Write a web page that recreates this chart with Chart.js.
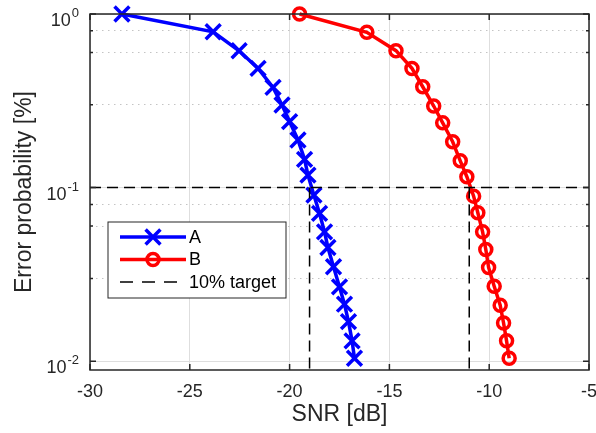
<!DOCTYPE html>
<html>
<head>
<meta charset="utf-8">
<script src="https://cdn.jsdelivr.net/npm/chart.js@4/dist/chart.umd.min.js"></script>
<style>
  html, body { margin: 0; padding: 0; background: #fff; }
  #wrap { width: 596px; height: 433px; }
</style>
</head>
<body>
<div id="wrap"><canvas id="chart"></canvas></div>
<script>
// readings
const snrA = [-28.4, -23.83, -22.53, -21.58, -20.83, -20.38, -20.0, -19.58, -19.25, -19.08,
              -18.78, -18.5, -18.25, -18.08, -17.8, -17.5, -17.25, -17.05, -16.87, -16.75];
const errA = [1.0, 0.79, 0.614, 0.486, 0.378, 0.299, 0.24, 0.188, 0.1455, 0.118,
              0.0905, 0.071, 0.0556, 0.0452, 0.035, 0.0268, 0.0213, 0.0169, 0.0131, 0.0104];
const snrB = [-19.5, -16.13, -14.67, -13.87, -13.33, -12.78, -12.33, -11.83, -11.45, -11.12,
              -10.78, -10.57, -10.33, -10.17, -10.03, -9.75, -9.45, -9.28, -9.13, -9.0];
const errB = [1.0, 0.784, 0.615, 0.486, 0.381, 0.295, 0.236, 0.1836, 0.1427, 0.1155,
              0.0893, 0.0716, 0.0556, 0.044, 0.0347, 0.027, 0.021, 0.0166, 0.0131, 0.0104];
const targetLevel = 0.1;
const targetSnr = [-19, -11];
const xRange = [-30, -5];
const yRange = [0.0089, 1];
const yDecades = [0.01, 0.1, 1];
const yDecadeExp = ['-2', '-1', '0'];

const AXIS_COLOR = '#262626';
const FONT = '"Liberation Sans", Arial, sans-serif';

const toPoints = (xs, ys) => xs.map((x, i) => ({ x: x, y: ys[i] }));

const targetData = [{ x: xRange[0], y: targetLevel }, { x: xRange[1], y: targetLevel }];
targetSnr.forEach(s => {
    targetData.push({ x: s, y: null }, { x: s, y: targetLevel }, { x: s, y: yRange[0] });
});

// minor + major grid values for the log axis
const yGrid = [];
yDecades.forEach(d => {
    for (let m = 1; m <= 9; m++) {
        const v = d * m;
        if (v >= yRange[0] && v <= yRange[1] * 1.0001) yGrid.push(v);
    }
});
const isDecade = v => Math.abs(Math.log10(v) - Math.round(Math.log10(v))) < 1e-6;

const axesBox = {
    id: 'axesBox',
    afterDraw(chart) {
        const ctx = chart.ctx;
        const a = chart.chartArea;
        const xs = chart.scales.x, ys = chart.scales.y;
        ctx.save();
        ctx.strokeStyle = AXIS_COLOR;
        ctx.lineWidth = 1.5;
        ctx.beginPath();
        xs.ticks.forEach(t => {
            const px = xs.getPixelForValue(t.value);
            ctx.moveTo(px, a.bottom); ctx.lineTo(px, a.bottom - 6);
            ctx.moveTo(px, a.top); ctx.lineTo(px, a.top + 6);
        });
        ys.ticks.forEach(t => {
            const py = ys.getPixelForValue(t.value);
            const len = isDecade(t.value) ? 6 : 3;
            ctx.moveTo(a.left, py); ctx.lineTo(a.left + len, py);
            ctx.moveTo(a.right, py); ctx.lineTo(a.right - len, py);
        });
        ctx.stroke();
        ctx.strokeRect(a.left, a.top, a.right - a.left, a.bottom - a.top);

        // y tick labels with superscript exponents
        ctx.fillStyle = AXIS_COLOR;
        ctx.textBaseline = 'alphabetic';
        yDecades.forEach((d, i) => {
            const py = ys.getPixelForValue(d);
            ctx.font = '18px ' + FONT;
            const wBase = ctx.measureText('10').width;
            ctx.font = '13px ' + FONT;
            const wExp = ctx.measureText(yDecadeExp[i]).width;
            const x0 = a.left - 12 - wBase - wExp;
            ctx.font = '18px ' + FONT;
            ctx.fillText('10', x0, py + 12);
            ctx.font = '13px ' + FONT;
            ctx.fillText(yDecadeExp[i], x0 + wBase + 1, py + 3);
        });
        ctx.restore();
    }
};

const boxLegend = {
    id: 'boxLegend',
    afterDraw(chart) {
        const ctx = chart.ctx;
        const a = chart.chartArea;
        const bx = a.left + 18, by = a.top + 208, bw = 178, bh = 76;
        ctx.save();
        ctx.fillStyle = '#fff';
        ctx.fillRect(bx, by, bw, bh);
        ctx.strokeStyle = AXIS_COLOR;
        ctx.lineWidth = 1;
        ctx.strokeRect(bx, by, bw, bh);
        chart.data.datasets.forEach((ds, i) => {
            const cy = by + 15 + i * 22.5;
            const x1 = bx + 12, x2 = bx + 78, xm = (x1 + x2) / 2;
            ctx.strokeStyle = ds.borderColor;
            ctx.lineWidth = ds.borderWidth;
            ctx.setLineDash(ds.borderDash ? [13, 9] : []);
            ctx.beginPath();
            ctx.moveTo(x1, cy); ctx.lineTo(x2, cy);
            ctx.stroke();
            ctx.setLineDash([]);
            if (ds.pointRadius > 0) {
                const r = ds.pointRadius;
                ctx.lineWidth = ds.pointBorderWidth;
                ctx.beginPath();
                if (ds.pointStyle === 'crossRot') {
                    const d = r * Math.SQRT1_2;
                    ctx.moveTo(xm - d, cy - d); ctx.lineTo(xm + d, cy + d);
                    ctx.moveTo(xm - d, cy + d); ctx.lineTo(xm + d, cy - d);
                } else {
                    ctx.arc(xm, cy, r, 0, Math.PI * 2);
                }
                ctx.stroke();
            }
            ctx.fillStyle = '#000';
            ctx.font = '18px ' + FONT;
            ctx.textBaseline = 'middle';
            ctx.fillText(ds.label, bx + 81, cy + 1);
        });
        ctx.restore();
    }
};

new Chart(document.getElementById('chart'), {
    type: 'line',
    data: {
        datasets: [{
            label: 'A',
            data: toPoints(snrA, errA),
            borderColor: '#0000ff',
            borderWidth: 3.5,
            pointStyle: 'crossRot',
            pointRadius: 10.5,
            pointBorderWidth: 3.5,
            pointBorderColor: '#0000ff',
            backgroundColor: 'rgba(0,0,0,0)',
            clip: 14,
            order: 2
        }, {
            label: 'B',
            data: toPoints(snrB, errB),
            borderColor: '#ff0000',
            borderWidth: 3.5,
            pointStyle: 'circle',
            pointRadius: 6,
            pointBorderWidth: 3.5,
            pointBorderColor: '#ff0000',
            pointBackgroundColor: 'rgba(0,0,0,0)',
            backgroundColor: 'rgba(0,0,0,0)',
            clip: 14,
            order: 1
        }, {
            label: '10% target',
            data: targetData,
            borderColor: '#000',
            borderWidth: 1.5,
            borderDash: [11, 6],
            pointRadius: 0,
            spanGaps: false,
            order: 0
        }]
    },
    options: {
        responsive: true,
        maintainAspectRatio: false,
        animation: false,
        layout: { autoPadding: false, padding: { left: 0, right: 7, top: 14, bottom: 0 } },
        plugins: {
            legend: { display: false },
            tooltip: { enabled: false }
        },
        scales: {
            x: {
                type: 'linear',
                min: xRange[0],
                max: xRange[1],
                ticks: {
                    stepSize: 5,
                    color: AXIS_COLOR,
                    font: { family: FONT, size: 18 },
                    padding: 11,
                    maxRotation: 0
                },
                grid: { color: '#dedede', lineWidth: 1, drawTicks: false },
                border: { display: false },
                title: {
                    display: true,
                    text: 'SNR [dB]',
                    color: AXIS_COLOR,
                    font: { family: FONT, size: 23 },
                    padding: { top: 0, bottom: 5 }
                },
                afterFit(scale) {
                    scale.height = 63;
                    scale.paddingLeft = 0;
                    scale.paddingRight = 0;
                }
            },
            y: {
                type: 'logarithmic',
                min: yRange[0],
                max: yRange[1],
                afterBuildTicks(scale) {
                    scale.ticks = yGrid.map(v => ({ value: v, major: isDecade(v) }));
                },
                ticks: {
                    callback: () => '',
                    font: { family: FONT, size: 18 }
                },
                grid: {
                    drawTicks: false,
                    lineWidth: 1,
                    color: ctx => (ctx.tick && isDecade(ctx.tick.value)) ? '#dedede' : '#c4c4c4'
                },
                border: {
                    display: false,
                    dash: ctx => (ctx.tick && isDecade(ctx.tick.value)) ? [] : [1.5, 4.5]
                },
                title: {
                    display: true,
                    text: 'Error probability [%]',
                    color: AXIS_COLOR,
                    font: { family: FONT, size: 23 },
                    padding: { top: 11, bottom: 0 }
                },
                afterFit(scale) {
                    scale.width = 90;
                    scale.paddingTop = 0;
                    scale.paddingBottom = 0;
                }
            }
        }
    },
    plugins: [axesBox, boxLegend]
});
</script>
</body>
</html>
